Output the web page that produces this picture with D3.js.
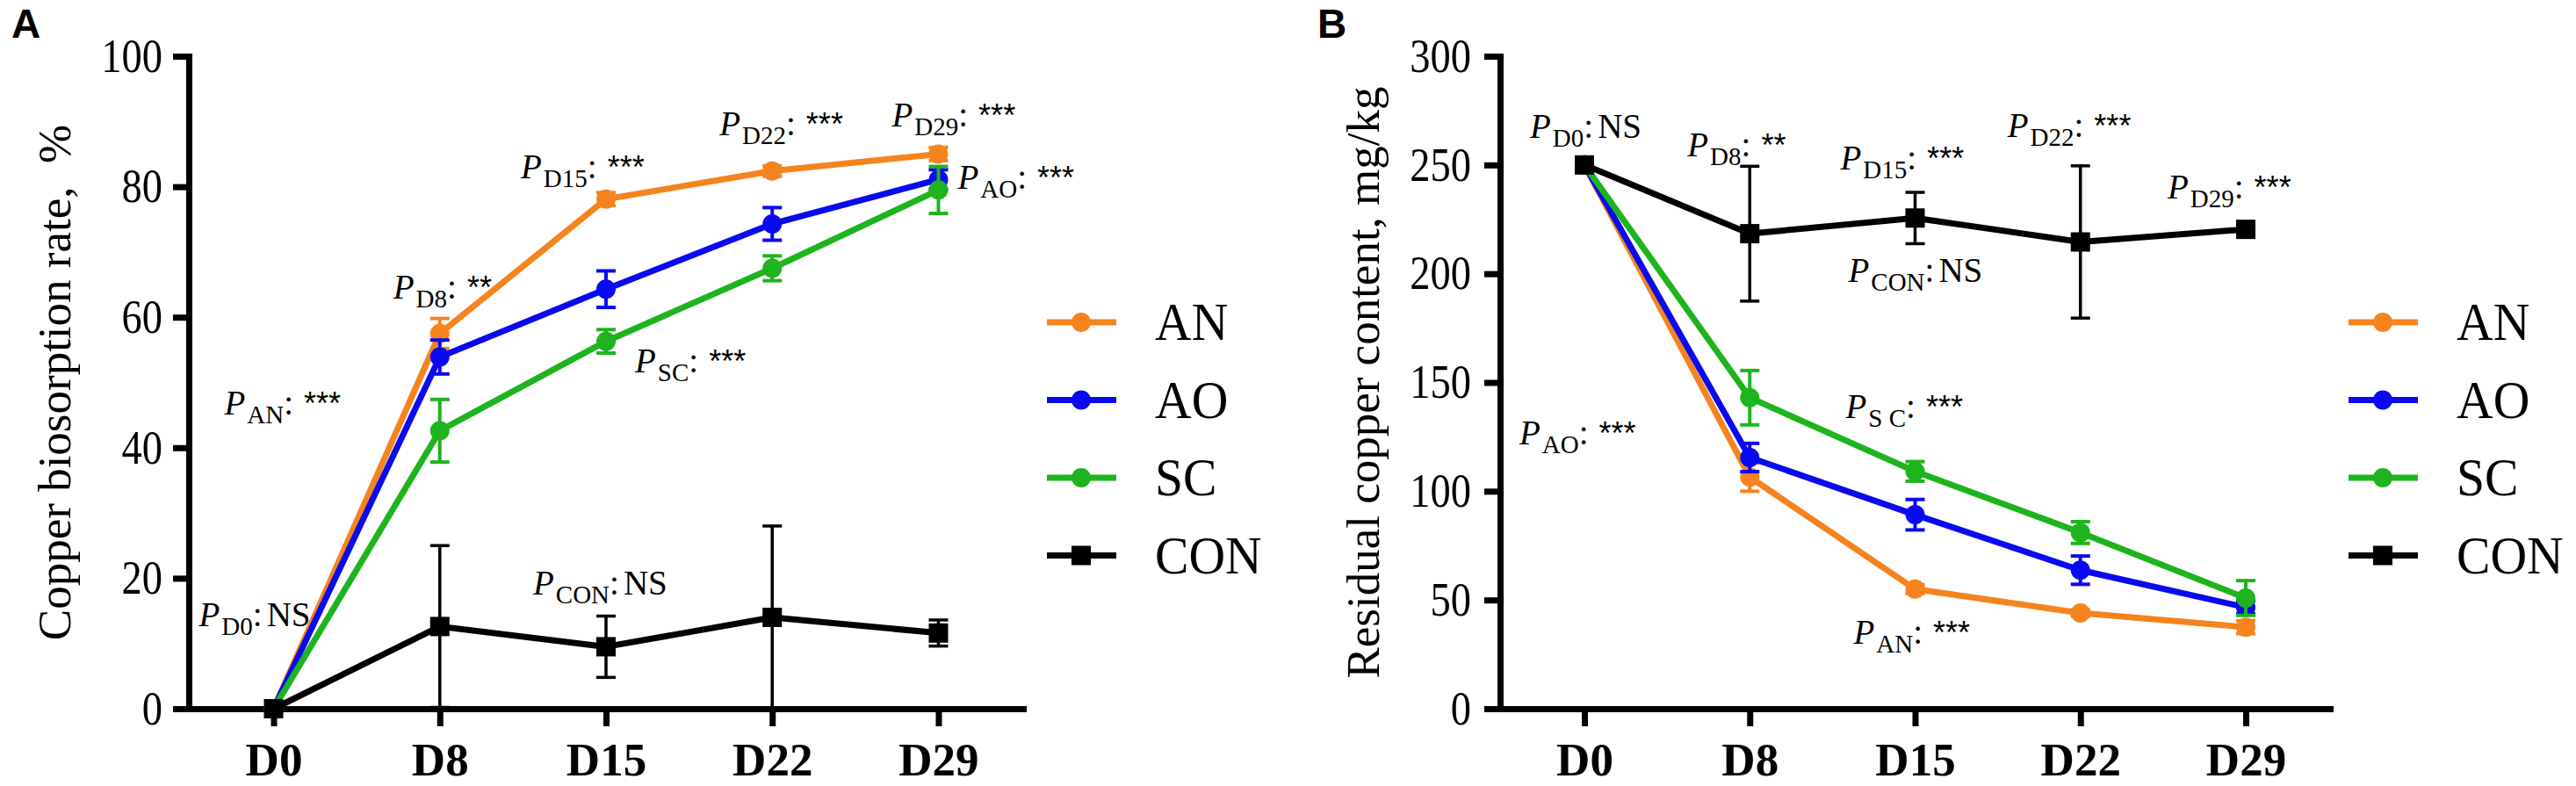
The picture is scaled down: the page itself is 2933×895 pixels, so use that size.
<!DOCTYPE html>
<html>
<head>
<meta charset="utf-8">
<script src="https://cdn.jsdelivr.net/npm/d3@7"></script>
<style>
body { margin: 0; background: #fff; }
text { font-family: "Liberation Serif", "Times New Roman", serif; fill: #000; }
</style>
</head>
<body>
<svg id="chart" width="2933" height="895"></svg>
<script>
var days = ["D0", "D8", "D15", "D22", "D29"];
var seriesNames = ["AN", "AO", "SC", "CON"];
var seriesColors = ["#F5841F", "#0A0AF0", "#1EB41E", "#000000"];

// panel A: copper biosorption rate, %
var rateTicks = [0, 20, 40, 60, 80, 100];
var rateAN = [0, 57.5, 78.1, 82.4, 85.0];
var rateANErr = [0, 2.3, 1.0, 0.8, 1.0];
var rateAO = [0, 53.9, 64.3, 74.3, 81.1];
var rateAOErr = [0, 2.6, 2.8, 2.5, 1.5];
var rateSC = [0, 42.6, 56.3, 67.5, 79.5];
var rateSCErr = [0, 4.8, 1.8, 1.9, 3.6];
var rateCON = [0, 12.6, 9.5, 14.0, 11.6];
var rateCONErr = [0, 12.4, 4.7, 14.0, 2.0];

// panel B: residual copper content, mg/kg
var residualTicks = [0, 50, 100, 150, 200, 250, 300];
var residualAN = [250, 106.5, 55.0, 44.0, 37.5];
var residualANErr = [0, 6.5, 2.0, 1.5, 3.0];
var residualAO = [250, 115.5, 89.2, 63.7, 46.6];
var residualAOErr = [0, 6.5, 7.0, 6.5, 3.0];
var residualSC = [250, 143.0, 109.1, 81.0, 50.9];
var residualSCErr = [0, 12.5, 4.5, 5.0, 8.0];
var residualCON = [250, 218.4, 225.6, 214.6, 220.4];
var residualCONErr = [0, 31.0, 11.8, 35.0, 3.0];

// significance notes, placed at a day + pixel offset and a y value
var notesA = [
	{sub: "D0", mark: "NS", day: "D0", dx: -85, v: 12.6},
	{sub: "AN", mark: "***", day: "D0", dx: -56, v: 45.1},
	{sub: "D8", mark: "**", day: "D8", dx: -53, v: 62.8},
	{sub: "D15", mark: "***", day: "D15", dx: -97, v: 81.3},
	{sub: "SC", mark: "***", day: "D15", dx: 33, v: 51.5},
	{sub: "CON", mark: "NS", day: "D15", dx: -83, v: 17.5},
	{sub: "D22", mark: "***", day: "D22", dx: -60, v: 87.9},
	{sub: "D29", mark: "***", day: "D29", dx: -53, v: 89.2},
	{sub: "AO", mark: "***", day: "D29", dx: 22, v: 79.7}
];
var notesB = [
	{sub: "D0", mark: "NS", day: "D0", dx: -62, v: 262.4},
	{sub: "AO", mark: "***", day: "D0", dx: -74, v: 121.4},
	{sub: "D8", mark: "**", day: "D8", dx: -71, v: 253.8},
	{sub: "D15", mark: "***", day: "D15", dx: -85, v: 248.0},
	{sub: "CON", mark: "NS", day: "D15", dx: -76, v: 196.3},
	{sub: "S C", mark: "***", day: "D15", dx: -79, v: 133.6},
	{sub: "AN", mark: "***", day: "D15", dx: -70, v: 29.8},
	{sub: "D22", mark: "***", day: "D22", dx: -83, v: 263.0},
	{sub: "D29", mark: "***", day: "D29", dx: -89, v: 234.6}
];

var serif = "'Liberation Serif', 'Times New Roman', serif";
var sans = "'Liberation Sans', Arial, sans-serif";

var svg = d3.select("#chart");

function drawPanel(p) {
	var g = svg.append("g");

	var x = d3.scalePoint().domain(days).range([p.left, p.right]).padding(0.51);
	var y = d3.scaleLinear().domain([0, d3.max(p.ticks)]).range([807, 64]);

	// panel letter
	g.append("text")
		.attr("x", p.letterX).attr("y", 43)
		.style("font-family", sans)
		.style("font-weight", "bold")
		.style("font-size", "46px")
		.text(p.letter);

	// y axis
	var yAxis = g.append("g")
		.attr("transform", "translate(" + p.left + ",0)")
		.call(d3.axisLeft(y).tickValues(p.ticks).tickSize(18).tickSizeOuter(0).tickFormat(d3.format("d")));
	yAxis.attr("font-family", null);
	yAxis.select(".domain").attr("stroke-width", 7).attr("stroke-linecap", "square");
	yAxis.selectAll(".tick line").attr("stroke-width", 7);
	yAxis.selectAll(".tick text")
		.attr("x", 0)
		.attr("transform", "translate(" + (-p.tickGap) + ",0) scale(0.86,1)")
		.style("font-family", serif)
		.style("font-size", "54px");

	// x axis
	var xAxis = g.append("g")
		.attr("transform", "translate(0,807)")
		.call(d3.axisBottom(x).tickSize(20).tickSizeOuter(0));
	xAxis.attr("font-family", null);
	xAxis.select(".domain").attr("stroke-width", 7).attr("stroke-linecap", "square");
	xAxis.selectAll(".tick line").attr("stroke-width", 7);
	xAxis.selectAll(".tick text")
		.attr("y", 76).attr("dy", 0)
		.style("font-family", serif)
		.style("font-weight", "bold")
		.style("font-size", "53px");
	g.selectAll(".domain, .tick line").attr("stroke", "#000");

	// y title
	g.append("text")
		.attr("transform", "translate(" + p.titleX + ",435.5) rotate(-90)")
		.attr("text-anchor", "middle")
		.style("font-family", serif)
		.style("font-size", "53px")
		.style("white-space", "pre")
		.text(p.title);

	// series: line, error bars, markers
	var line = d3.line().x(function(d, i){ return x(days[i]); }).y(function(d){ return y(d); });
	p.values.forEach(function(vals, s) {
		var color = seriesColors[s];
		var errs = p.errors[s];
		var sg = g.append("g");
		sg.append("path")
			.datum(vals)
			.attr("d", line)
			.attr("fill", "none")
			.attr("stroke", color)
			.attr("stroke-width", 7)
			.attr("stroke-linejoin", "round");

		var bars = sg.selectAll(".err")
			.data(vals.map(function(v, i){ return {v: v, e: errs[i], day: days[i]}; })
				.filter(function(d){ return d.e > 0; }))
			.enter().append("g")
			.attr("class", "err")
			.attr("stroke", color)
			.attr("stroke-width", s == 3 ? 3.5 : 4);
		bars.append("line")
			.attr("x1", function(d){ return x(d.day); })
			.attr("x2", function(d){ return x(d.day); })
			.attr("y1", function(d){ return y(d.v - d.e); })
			.attr("y2", function(d){ return y(d.v + d.e); });
		[1, -1].forEach(function(sign) {
			bars.append("line")
				.attr("x1", function(d){ return x(d.day) - 11; })
				.attr("x2", function(d){ return x(d.day) + 11; })
				.attr("y1", function(d){ return y(d.v + sign * d.e); })
				.attr("y2", function(d){ return y(d.v + sign * d.e); });
		});

		if (seriesNames[s] == "CON") {
			sg.selectAll(".mk").data(vals).enter().append("rect")
				.attr("x", function(d, i){ return x(days[i]) - 11; })
				.attr("y", function(d){ return y(d) - 11; })
				.attr("width", 22).attr("height", 22)
				.attr("fill", color);
		} else {
			sg.selectAll(".mk").data(vals).enter().append("circle")
				.attr("cx", function(d, i){ return x(days[i]); })
				.attr("cy", function(d){ return y(d); })
				.attr("r", 11)
				.attr("fill", color);
		}
	});

	// significance notes
	p.notes.forEach(function(a) {
		var t = g.append("text")
			.attr("x", x(a.day) + a.dx)
			.attr("y", y(a.v))
			.style("font-family", serif)
			.style("font-size", "39px")
			.style("white-space", "pre");
		t.append("tspan").style("font-style", "italic").text("P");
		t.append("tspan").attr("dx", 2).attr("dy", 10).style("font-size", "29px").text(a.sub);
		t.append("tspan").attr("dy", -10).text(":");
		if (a.mark == "NS") {
			t.append("tspan").attr("dx", 5).text("NS");
		} else {
			t.append("tspan").attr("dx", 12)
				.style("font-family", sans)
				.style("font-size", "36px")
				.text(a.mark);
		}
	});

	// legend
	var leg = g.selectAll(".legendItem")
		.data(seriesNames)
		.enter().append("g")
		.attr("class", "legendItem")
		.attr("transform", function(d, i){ return "translate(" + p.legendX + "," + (367 + i * 88.5) + ")"; });
	leg.append("line")
		.attr("x1", 0).attr("x2", 79)
		.attr("stroke", function(d, i){ return seriesColors[i]; })
		.attr("stroke-width", 7);
	leg.each(function(d, i) {
		var item = d3.select(this);
		if (d == "CON") {
			item.append("rect").attr("x", 28).attr("y", -11).attr("width", 22).attr("height", 22).attr("fill", seriesColors[i]);
		} else {
			item.append("circle").attr("cx", 39).attr("r", 11).attr("fill", seriesColors[i]);
		}
	});
	leg.append("text")
		.attr("transform", "translate(123,20) scale(0.93,1)")
		.style("font-family", serif)
		.style("font-size", "62px")
		.text(function(d){ return d; });
}

drawPanel({
	letter: "A", letterX: 13,
	left: 215, right: 1165, tickGap: 30,
	ticks: rateTicks,
	title: "Copper biosorption rate,  %", titleX: 80,
	values: [rateAN, rateAO, rateSC, rateCON],
	errors: [rateANErr, rateAOErr, rateSCErr, rateCONErr],
	notes: notesA,
	legendX: 1192
});

drawPanel({
	letter: "B", letterX: 1500,
	left: 1708, right: 2653, tickGap: 33,
	ticks: residualTicks,
	title: "Residual copper content, mg/kg", titleX: 1570,
	values: [residualAN, residualAO, residualSC, residualCON],
	errors: [residualANErr, residualAOErr, residualSCErr, residualCONErr],
	notes: notesB,
	legendX: 2674
});
</script>
</body>
</html>
